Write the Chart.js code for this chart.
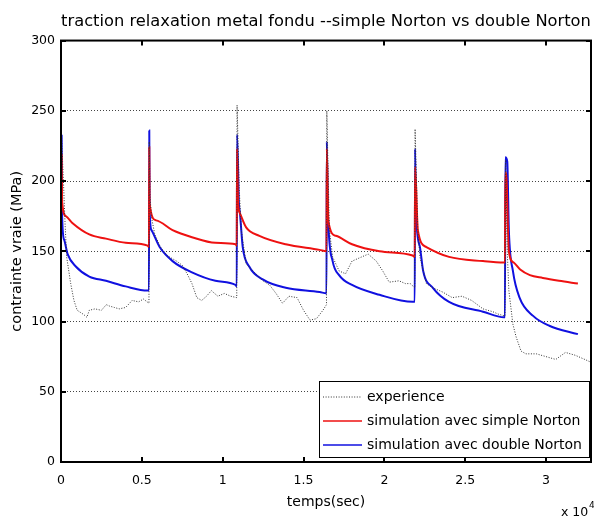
<!DOCTYPE html>
<html><head><meta charset="utf-8">
<script src="https://cdn.jsdelivr.net/npm/chart.js@4.4.0/dist/chart.umd.min.js"></script>
<style>html,body{margin:0;padding:0;background:#fff}canvas{display:block}</style>
</head><body>
<canvas id="c" width="594" height="517"></canvas>
<script>
const titleText = 'traction relaxation metal fondu --simple Norton vs double Norton';
const xTitle = 'temps(sec)';
const yTitle = 'contrainte vraie (MPa)';
const seriesNames = ['experience', 'simulation avec simple Norton', 'simulation avec double Norton'];
const xTicks = [0, 5000, 10000, 15000, 20000, 25000, 30000];
const xTickLabels = ['0', '0.5', '1', '1.5', '2', '2.5', '3'];
const yTicks = [0, 50, 100, 150, 200, 250, 300];
const xMin = 0, xMax = 32780, yMin = 0, yMax = 300;

// experience (seconds, MPa)
const expT = [0, 150, 250, 350, 600, 800, 1000, 1400, 1600, 1750, 2100, 2500, 2800, 3000, 3300, 3600, 4000, 4400, 4800, 5100, 5440,
  5460, 5500, 5600, 5800, 6150, 6550, 7150, 7500, 7800, 8100, 8400, 8700, 9000, 9300, 9700, 10100, 10500, 10870,
  10890, 11030, 11150, 11450, 11860, 12480, 12900, 13300, 13700, 14100, 14600, 15000, 15400, 15800, 16200, 16420,
  16440, 16600, 16800, 17200, 17600, 18000, 18600, 19000, 19500, 19900, 20300, 20900, 21300, 21600, 21880,
  21900, 22070, 22200, 22600, 23000, 23600, 24200, 24800, 25400, 26100, 26700, 27100, 27460,
  27500, 27600, 27700, 27950, 28150, 28450, 28750, 29400, 30000, 30600, 31200, 31800, 32400, 32780];
const expY = [240, 200, 170, 146, 127, 115, 108, 105, 103, 108, 109, 108, 112, 111, 110, 109, 110, 115, 114, 116, 113,
  228, 190, 174, 162, 153, 147, 143, 140, 134, 127, 117, 115, 118, 122, 118, 120, 118, 117,
  254, 193, 165, 141, 136, 129, 126, 120, 113, 118, 117, 108, 101, 102, 108, 112,
  250, 165, 146, 136, 134, 143, 146, 148, 143, 136, 128, 129, 127, 127, 124,
  237, 165, 146, 127, 124, 121, 117, 118, 115, 109, 107, 105, 104,
  215, 150, 122, 98, 89, 79, 77, 77, 75, 73, 78, 76, 73, 71];

// simulation avec simple Norton
const simpleT = [40, 70, 300, 720, 1750, 2780, 4000, 5360, 5440,
  5460, 5480, 5880, 6900, 8100, 9550, 10800, 10870,
  10890, 10950, 11070, 11450, 12270, 13900, 16000, 16420,
  16440, 16540, 17000, 18000, 19700, 21750, 21880,
  21900, 22070, 22600, 24000, 26100, 27400, 27460,
  27480, 27560, 27700, 28000, 28400, 29000, 29800, 30800, 31970];
const simpleY = [219, 185, 175, 170, 162, 159, 156, 154, 153,
  224, 184, 172, 165, 160, 156, 155, 154,
  223, 185, 177, 167, 161, 155, 151, 150,
  223, 171, 161, 155, 150, 147, 146,
  210, 165, 153, 146, 143, 142, 142,
  206, 200, 150, 142, 137, 133, 131, 129, 127];

// simulation avec double Norton
const doubleT = [40, 70, 200, 410, 930, 1750, 2780, 4000, 5360, 5440,
  5460, 5480, 5600, 6100, 6900, 8100, 9550, 10800, 10870,
  10890, 11000, 11070, 11240, 11650, 12480, 13900, 16000, 16420,
  16440, 16500, 16800, 17200, 18000, 19700, 21750, 21880,
  21900, 21950, 22200, 22400, 23000, 24000, 26100, 27400, 27460,
  27480, 27600, 27700, 27950, 28360, 29200, 30200, 31970];
const doubleY = [233, 175, 158, 148, 139, 132, 129, 125, 122, 122,
  236, 180, 165, 153, 143, 135, 129, 126, 125,
  233, 185, 177, 153, 139, 130, 124, 121, 120,
  228, 180, 143, 133, 126, 119, 114, 114,
  223, 180, 153, 136, 124, 114, 107, 103, 103,
  217, 214, 165, 136, 117, 104, 97, 91];

const toXY = (ts, ys) => ts.map((t, i) => ({x: t, y: ys[i]}));
const FONT = "'DejaVu Sans', sans-serif";

const frameAndLegend = {
  id: 'frameAndLegend',
  afterDatasetsDraw(chart) {
    const {ctx, chartArea: a, scales: {x, y}} = chart;
    ctx.save();
    // axes box
    ctx.strokeStyle = '#000';
    ctx.lineWidth = 2;
    ctx.setLineDash([]);
    ctx.strokeRect(a.left, a.top, a.right - a.left, a.bottom - a.top);
    // inward ticks
    ctx.lineWidth = 2;
    const tl = 5;
    ctx.beginPath();
    xTicks.forEach(v => {
      const px = Math.round(x.getPixelForValue(v));
      ctx.moveTo(px, a.bottom); ctx.lineTo(px, a.bottom - tl);
      ctx.moveTo(px, a.top); ctx.lineTo(px, a.top + tl);
    });
    yTicks.forEach(v => {
      const py = Math.round(y.getPixelForValue(v));
      ctx.moveTo(a.left, py); ctx.lineTo(a.left + tl, py);
      ctx.moveTo(a.right, py); ctx.lineTo(a.right - tl, py);
    });
    ctx.stroke();

    // legend
    const bw = 270, bh = 76;
    const bx = a.right - 2 - bw, by = a.bottom - 5 - bh;
    ctx.fillStyle = '#fff';
    ctx.fillRect(bx, by, bw, bh);
    ctx.lineWidth = 1;
    ctx.strokeStyle = '#000';
    ctx.strokeRect(bx + 0.5, by + 0.5, bw, bh);
    ctx.font = '14px ' + FONT;
    ctx.textBaseline = 'middle';
    ctx.textAlign = 'left';
    chart.data.datasets.forEach((ds, i) => {
      const ry = by + 16 + i * 24;
      ctx.beginPath();
      ctx.strokeStyle = ds.borderColor;
      ctx.lineWidth = i === 0 ? 1 : 1.5;
      ctx.setLineDash(ds.borderDash || []);
      ctx.moveTo(bx + 4, ry); ctx.lineTo(bx + 43, ry);
      ctx.stroke();
      ctx.setLineDash([]);
      ctx.fillStyle = '#000';
      ctx.fillText(ds.label, bx + 48, ry);
    });

    // x 10^4 multiplier
    ctx.font = '12.5px ' + FONT;
    ctx.fillStyle = '#000';
    ctx.textBaseline = 'alphabetic';
    ctx.fillText('x 10', 561, 516);
    ctx.font = '9px ' + FONT;
    ctx.fillText('4', 589, 508);
    ctx.restore();
  }
};

new Chart(document.getElementById('c'), {
  type: 'line',
  data: {
    datasets: [
      {label: seriesNames[0], data: toXY(expT, expY), borderColor: '#333', borderWidth: 1, borderDash: [1, 1.6], pointRadius: 0, tension: 0, order: 0},
      {label: seriesNames[1], data: toXY(simpleT, simpleY), borderColor: '#ee1111', borderWidth: 2, pointRadius: 0, cubicInterpolationMode: 'monotone', order: 1},
      {label: seriesNames[2], data: toXY(doubleT, doubleY), borderColor: '#1010e0', borderWidth: 2, pointRadius: 0, cubicInterpolationMode: 'monotone', order: 2}
    ]
  },
  options: {
    responsive: false,
    animation: false,
    devicePixelRatio: 1,
    layout: {padding: {left: 0, right: 3, top: 0, bottom: 0}},
    plugins: {
      legend: {display: false},
      tooltip: {enabled: false},
      title: {display: true, text: titleText, fullSize: false, color: '#000',
        font: {family: FONT, size: 16.3, weight: 'normal'}, padding: {top: 12, bottom: 9}}
    },
    scales: {
      x: {
        type: 'linear', min: xMin, max: xMax,
        afterFit: s => { s.height = 55; },
        afterBuildTicks: s => { s.ticks = xTicks.map(v => ({value: v})); },
        grid: {display: false, drawTicks: false},
        border: {display: false},
        ticks: {color: '#000', font: {family: FONT, size: 12.5}, padding: 11, maxRotation: 0, autoSkip: false,
          callback: (v) => { const i = xTicks.indexOf(v); return i >= 0 ? xTickLabels[i] : ''; }},
        title: {display: true, text: xTitle, color: '#000', font: {family: FONT, size: 14}, padding: {top: 0, bottom: 6}}
      },
      y: {
        type: 'linear', min: yMin, max: yMax,
        afterFit: s => { s.width = 61; },
        afterBuildTicks: s => { s.ticks = yTicks.map(v => ({value: v})); },
        grid: {display: true, drawTicks: false, color: '#444', lineWidth: 1},
        border: {display: false, dash: [1, 2]},
        ticks: {color: '#000', font: {family: FONT, size: 12.5}, padding: 6, autoSkip: false},
        title: {display: true, text: yTitle, color: '#000', font: {family: FONT, size: 14.5}, padding: {top: 9, bottom: 0}}
      }
    }
  },
  plugins: [frameAndLegend]
});
</script>
</body></html>
